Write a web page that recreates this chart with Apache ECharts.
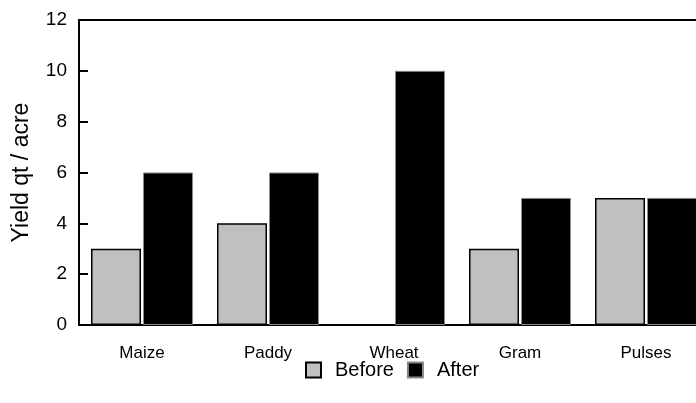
<!DOCTYPE html>
<html>
<head>
<meta charset="utf-8">
<style>
  html, body { margin: 0; padding: 0; background: #fff; }
  #chart { width: 696px; height: 403px; }
</style>
<script src="https://cdn.jsdelivr.net/npm/echarts@6/dist/echarts.min.js"></script>
</head>
<body>
<div id="chart"></div>
<script>
// Crop yields before and after (qt / acre)
const crops = ['Maize', 'Paddy', 'Wheat', 'Gram', 'Pulses'];
const before = [3, 4, 0, 3, 5];
const after = [6, 6, 10, 5, 5];
const yTicks = { min: 0, max: 12, step: 2 };

const FONT = '"Liberation Sans", Arial, sans-serif';
const chart = echarts.init(document.getElementById('chart'));

chart.setOption({
  animation: false,
  textStyle: { fontFamily: FONT, color: '#000' },
  grid: {
    left: 79, top: 20, width: 630, height: 305,
    containLabel: false,
    outerBoundsMode: 'none'
  },
  legend: {
    data: ['Before', 'After'],
    icon: 'rect',
    top: 355,
    left: 300,
    itemWidth: 15,
    itemHeight: 15,
    itemGap: 13,
    textStyle: { fontSize: 20, color: '#000', fontFamily: FONT, padding: [0, 0, 0, 9] }
  },
  xAxis: [
    {
      type: 'category',
      data: crops,
      position: 'bottom',
      axisLine: { lineStyle: { color: '#000', width: 2 } },
      axisTick: { show: false },
      axisLabel: { fontSize: 17, color: '#000', margin: 20, fontFamily: FONT }
    },
    {
      // frame line across the top of the plot
      type: 'category',
      data: crops,
      position: 'top',
      axisLine: { lineStyle: { color: '#000', width: 2 } },
      axisTick: { show: false },
      axisLabel: { show: false }
    }
  ],
  yAxis: {
    type: 'value',
    min: yTicks.min,
    max: yTicks.max,
    interval: yTicks.step,
    name: 'Yield qt / acre',
    nameLocation: 'middle',
    nameGap: 46,
    nameTextStyle: { fontSize: 23, color: '#000', fontFamily: FONT },
    axisLine: { show: true, lineStyle: { color: '#000', width: 2 } },
    axisTick: { show: true, inside: true, length: 9, lineStyle: { color: '#000', width: 2 } },
    axisLabel: { fontSize: 19, color: '#000', margin: 12, fontFamily: FONT },
    splitLine: { show: false }
  },
  series: [
    {
      name: 'Before',
      type: 'bar',
      data: before,
      barWidth: 50,
      barGap: '4%',
      itemStyle: { color: '#c0c0c0', borderColor: '#000', borderWidth: 1.5 }
    },
    {
      name: 'After',
      type: 'bar',
      data: after,
      barWidth: 50,
      itemStyle: { color: '#000', borderColor: '#888', borderWidth: 1 }
    }
  ]
});
</script>
</body>
</html>
